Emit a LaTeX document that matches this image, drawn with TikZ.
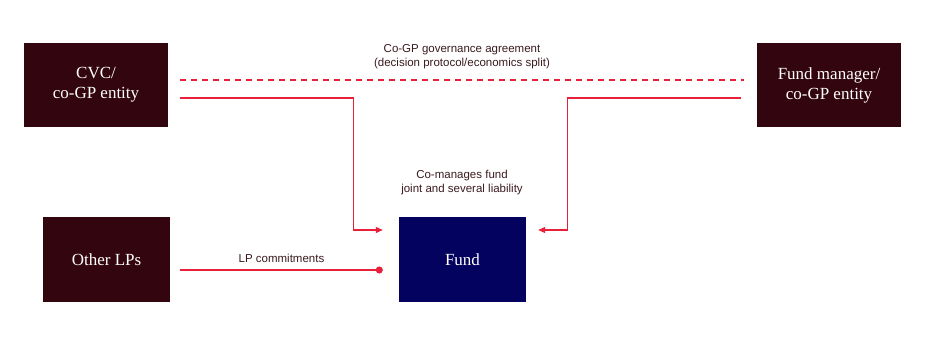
\documentclass[tikz,border=0pt]{standalone}
\usepackage{fontspec}
\setmainfont{Liberation Serif}
\newfontfamily\labelfont{Liberation Sans}
\usetikzlibrary{arrows.meta}
\definecolor{boxred}{HTML}{33050F}
\definecolor{boxblue}{HTML}{03035F}
\definecolor{linkred}{HTML}{E8203A}
\definecolor{labeltext}{HTML}{3A1A1E}
\tikzset{
  entity/.style={fill=boxred, text=white, minimum width=144pt, minimum height=84pt,
    align=center, font=\fontsize{17}{20}\selectfont, inner sep=0pt},
  fundbox/.style={entity, fill=boxblue, minimum width=127pt, minimum height=85pt},
  link/.style={draw=linkred, line width=1.1pt},
  tag/.style={text=labeltext, align=center, font=\labelfont\fontsize{11.5}{14}\selectfont, inner sep=0pt}
}
\begin{document}
\begin{tikzpicture}[x=1pt, y=-1pt]
  \useasboundingbox (0,0) rectangle (936,339);

  % Nodi
  \node[entity] (cvc) at (96,85) {CVC/\\co-GP entity};
  \node[entity] (fm) at (829,85) {Fund manager/\\co-GP entity};
  \node[entity, minimum width=127pt, minimum height=85pt] (lps) at (106.5,259.5) {Other LPs};
  \node[fundbox] (fund) at (462.5,259.5) {Fund};

  \node[tag] (gov) at (462,57) {Co-GP governance agreement\\(decision protocol/economics split)};
  \node[tag] (comanage) at (462,183) {Co-manages fund\\joint and several liability};

  \coordinate (inA) at ([shift={(-16,-29.5)}]fund.west);
  \coordinate (inB) at ([shift={(12,-29.5)}]fund.east);

  % Archi
  \draw[link, dashed, dash pattern=on 6pt off 5pt] ([shift={(12,-5)}]cvc.east) -- ([shift={(-13,-5)}]fm.west);
  \draw[link, -{Triangle[length=7pt,width=6pt]}] ([shift={(12,13)}]cvc.east) -- ++(173,0) |- (inA);
  \draw[link, -{Triangle[length=7pt,width=6pt]}] ([shift={(-16,13)}]fm.west) -- ++(-173,0) |- (inB);
  \draw[link, -{Circle[length=7pt]}] ([shift={(10,10.5)}]lps.east) -- ([shift={(-16,10.5)}]fund.west)
    node[tag, midway, above=7pt] (commit) {LP commitments};
\end{tikzpicture}
\end{document}
